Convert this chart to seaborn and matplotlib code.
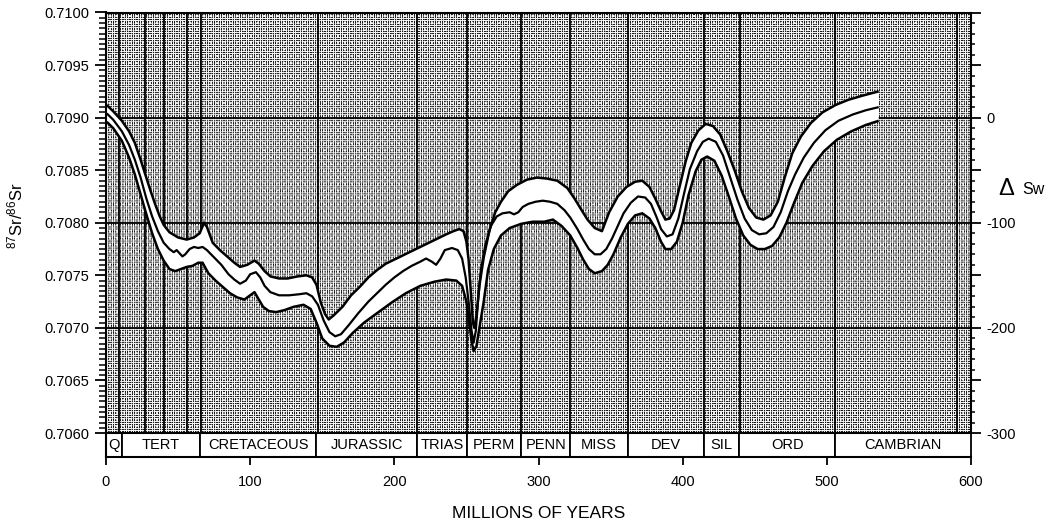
import numpy as np
import matplotlib
matplotlib.use("Agg")
import matplotlib.pyplot as plt
from matplotlib.patches import Rectangle
from matplotlib.ticker import FixedLocator, FuncFormatter
import seaborn as sns

# Seawater 87Sr/86Sr through the Phanerozoic: upper envelope, best-fit line, lower envelope
age_upper = [0.5, 5, 11, 16, 20, 24, 27, 31, 34, 37, 40, 44, 50, 56, 61, 65, 68, 70, 74, 79,
             84, 89, 93, 98, 103, 106, 110, 114, 120, 126, 133, 139, 143, 146, 149, 152, 154.5,
             158, 164, 170, 176, 182, 188, 194, 200, 206, 212, 218, 224, 230, 236, 241, 245,
             248, 250, 251.5, 253, 254.5, 255.5, 257, 259, 262, 266, 270, 274, 279, 285, 292,
             299, 306, 313, 320, 325, 329, 334, 339, 344, 349, 355, 361, 367, 372, 377, 381,
             385, 388, 391, 394, 398, 402, 406, 411, 416, 421, 426, 431, 436, 441, 446, 451,
             456, 461, 466, 471, 476, 482, 489, 497, 506, 515, 525, 536]
sr_upper = [0.70912, 0.70906, 0.70897, 0.70887, 0.70876, 0.70860, 0.70847, 0.70830, 0.70818,
            0.70807, 0.70798, 0.70791, 0.70786, 0.70784, 0.70786, 0.70790, 0.70800, 0.70796,
            0.70781, 0.70774, 0.70768, 0.70762, 0.70758, 0.70760, 0.70764, 0.70761, 0.70754,
            0.70749, 0.70747, 0.70747, 0.70749, 0.70750, 0.70748, 0.70741, 0.70724, 0.70713,
            0.70708, 0.70712, 0.70720, 0.70731, 0.70739, 0.70748, 0.70755, 0.70761, 0.70765,
            0.70769, 0.70773, 0.70777, 0.70781, 0.70785, 0.70789, 0.70792, 0.70794, 0.70792,
            0.70782, 0.70765, 0.70735, 0.70705, 0.70700, 0.70712, 0.70740, 0.70767, 0.70793,
            0.70810, 0.70820, 0.70830, 0.70836, 0.70841, 0.70843, 0.70842, 0.70840, 0.70833,
            0.70823, 0.70814, 0.70803, 0.70795, 0.70792, 0.70810, 0.70825, 0.70834, 0.70839,
            0.70840, 0.70834, 0.70823, 0.70811, 0.70803, 0.70804, 0.70812, 0.70835, 0.70858,
            0.70876, 0.70888, 0.70894, 0.70892, 0.70884, 0.70868, 0.70850, 0.70830, 0.70814,
            0.70805, 0.70803, 0.70807, 0.70820, 0.70844, 0.70866, 0.70882, 0.70895, 0.70905,
            0.70912, 0.70917, 0.70921, 0.70925]

age_mid = [0.5, 5, 11, 16, 20, 24, 28, 32, 36, 40, 44, 47, 49, 51, 53, 55, 58, 61, 64, 67, 70,
           75, 80, 85, 89, 93, 97, 100, 104, 107, 110, 114, 120, 127, 134, 139, 143, 147, 151,
           155, 159, 163, 168, 175, 182, 188, 194, 200, 206, 212, 218, 222, 226, 229, 232, 235,
           240, 244, 247, 249.5, 251.5, 253.5, 255, 256.5, 258, 260, 263, 267, 271, 275, 280,
           283, 286, 289, 293, 298, 303, 308, 313, 318, 322, 327, 331, 335, 339, 343, 347, 351,
           355, 359, 364, 369, 374, 378, 382, 385, 389, 393, 397, 401, 405, 410, 414, 418, 423,
           428, 433, 438, 443, 448, 453, 458, 463, 468, 473, 478, 484, 491, 499, 508, 518, 527,
           536]
sr_mid = [0.70904, 0.70898, 0.70887, 0.70874, 0.70860, 0.70843, 0.70823, 0.70806, 0.70792,
          0.70781, 0.70775, 0.70772, 0.70774, 0.70771, 0.70768, 0.70770, 0.70775, 0.70777,
          0.70776, 0.70777, 0.70774, 0.70767, 0.70760, 0.70751, 0.70746, 0.70742, 0.70745,
          0.70751, 0.70753, 0.70748, 0.70740, 0.70734, 0.70731, 0.70731, 0.70732, 0.70733,
          0.70730, 0.70722, 0.70707, 0.70696, 0.70692, 0.70694, 0.70702, 0.70714, 0.70725,
          0.70733, 0.70741, 0.70748, 0.70754, 0.70759, 0.70763, 0.70766, 0.70763, 0.70760,
          0.70766, 0.70774, 0.70776, 0.70774, 0.70766, 0.70748, 0.70725, 0.70698, 0.70686,
          0.70697, 0.70725, 0.70755, 0.70778, 0.70797, 0.70806, 0.70809, 0.70810, 0.70808,
          0.70810, 0.70815, 0.70818, 0.70820, 0.70821, 0.70820, 0.70818, 0.70812, 0.70805,
          0.70794, 0.70784, 0.70775, 0.70770, 0.70770, 0.70775, 0.70785, 0.70797, 0.70809,
          0.70819, 0.70825, 0.70824, 0.70818, 0.70805, 0.70794, 0.70787, 0.70789, 0.70804,
          0.70828, 0.70851, 0.70868, 0.70877, 0.70880, 0.70877, 0.70864, 0.70843, 0.70822,
          0.70804, 0.70793, 0.70789, 0.70790, 0.70796, 0.70810, 0.70830, 0.70846, 0.70862,
          0.70876, 0.70888, 0.70897, 0.70903, 0.70907, 0.70910]

age_lower = [0.5, 5, 11, 16, 20, 24, 28, 32, 36, 40, 44, 48, 52, 56, 60, 64, 67, 71, 76, 81,
             86, 91, 96, 100, 103, 106, 109, 113, 118, 124, 130, 137, 142, 146, 150, 155, 160,
             165, 171, 179, 188, 198, 208, 218, 228, 236, 243, 247, 250, 252, 253.5, 255, 257,
             259, 262, 265, 269, 274, 280, 288, 296, 304, 310, 316, 322, 327, 331, 335, 339,
             344, 348, 352, 357, 362, 367, 372, 377, 381, 385, 388, 392, 396, 400, 404, 409,
             413, 417, 422, 427, 432, 437, 442, 447, 452, 457, 462, 467, 472, 477, 483, 490,
             498, 507, 517, 527, 536]
sr_lower = [0.70896, 0.70890, 0.70878, 0.70862, 0.70846, 0.70827, 0.70808, 0.70790, 0.70775,
            0.70764, 0.70756, 0.70754, 0.70756, 0.70758, 0.70759, 0.70762, 0.70762, 0.70752,
            0.70745, 0.70739, 0.70733, 0.70729, 0.70727, 0.70731, 0.70734, 0.70727, 0.70720,
            0.70716, 0.70715, 0.70717, 0.70720, 0.70722, 0.70718, 0.70705, 0.70690, 0.70683,
            0.70682, 0.70686, 0.70695, 0.70705, 0.70714, 0.70724, 0.70733, 0.70740, 0.70744,
            0.70746, 0.70745, 0.70740, 0.70725, 0.70705, 0.70688, 0.70678, 0.70683, 0.70700,
            0.70725, 0.70755, 0.70775, 0.70788, 0.70795, 0.70799, 0.70801, 0.70801, 0.70803,
            0.70797, 0.70788, 0.70776, 0.70765, 0.70756, 0.70752, 0.70754, 0.70760, 0.70770,
            0.70786, 0.70799, 0.70807, 0.70809, 0.70804, 0.70795, 0.70782, 0.70775, 0.70775,
            0.70782, 0.70800, 0.70826, 0.70849, 0.70860, 0.70863, 0.70859, 0.70845, 0.70825,
            0.70804, 0.70788, 0.70779, 0.70775, 0.70775, 0.70778, 0.70786, 0.70800, 0.70818,
            0.70838, 0.70854, 0.70868, 0.70879, 0.70887, 0.70893, 0.70897]

# Geologic time scale strip
period_names = ["Q", "TERT", "CRETACEOUS", "JURASSIC", "TRIAS", "PERM", "PENN",
                "MISS", "DEV", "SIL", "ORD", "CAMBRIAN"]
period_edges = [0, 11, 65, 146, 215.5, 250.5, 288, 322, 362, 415, 439, 506, 600]
# Vertical rules inside the plot (epoch / period boundaries)
rule_ages = [9, 27, 40, 56, 66, 147, 216, 250.5, 288, 322, 362, 415, 440, 506, 590]
rule_ratios = [0.7070, 0.7080, 0.7090]

x_ticks = [0, 100, 200, 300, 400, 500, 600]
y_ticks = [0.7060, 0.7065, 0.7070, 0.7075, 0.7080, 0.7085, 0.7090, 0.7095, 0.7100]
dsw_ticks = [-300, -250, -200, -150, -100, -50, 0, 50, 100]
dsw_labels = ["-300", "", "-200", "", "-100", "", "0", "", ""]

sns.set_theme(style="ticks")
plt.rcParams["font.family"] = ["Liberation Sans", "DejaVu Sans"]
plt.rcParams["mathtext.fontset"] = "custom"
plt.rcParams["mathtext.rm"] = "Liberation Sans"
plt.rcParams["mathtext.it"] = "Liberation Sans"

Y_TOP, Y_BOT = 0.7100, 0.7060
STRIP = 0.000228
Y_MIN = Y_BOT - STRIP

fig = plt.figure(figsize=(10.57, 5.25), dpi=100)
fig.patch.set_facecolor("white")
ax = fig.add_axes([106 / 1057, 1 - 457 / 525, 865 / 1057, 444.5 / 525])
ax.set_xlim(0, 600)
ax.set_ylim(Y_MIN, Y_TOP)
ax.set_facecolor("white")

# Stippled halftone background
h, w = 420, 865
yy, xx = np.mgrid[0:h, 0:w].astype(float)
p = 4.7
c = np.cos(2 * np.pi * (xx + yy) / p) * np.cos(2 * np.pi * (xx - yy) / p)
dark = np.clip(c / 0.4, 0, 1)
shade = 0.96 - 0.86 * dark
ax.imshow(shade, cmap="gray", vmin=0, vmax=1, extent=(0, 600, Y_BOT, Y_TOP),
          aspect="auto", interpolation="antialiased", zorder=0)

# Grid rules
for a in rule_ages:
    ax.plot([a, a], [Y_BOT, Y_TOP], color="black", lw=1.3, zorder=1)
for r in rule_ratios:
    ax.plot([0, 600], [r, r], color="black", lw=1.3, zorder=1)

# White envelope between upper and lower curves
ax.fill(np.concatenate([age_upper, age_lower[::-1]]),
        np.concatenate([sr_upper, sr_lower[::-1]]),
        color="white", lw=0, zorder=2)

for xs, ys, lw in [(age_upper, sr_upper, 1.8), (age_mid, sr_mid, 1.6), (age_lower, sr_lower, 1.8)]:
    sns.lineplot(x=xs, y=ys, ax=ax, color="black", lw=lw, sort=False,
                 estimator=None, zorder=3)
for ln in ax.lines[-3:]:
    ln.set_solid_joinstyle("round")
    ln.set_solid_capstyle("butt")

# Period strip along the bottom
for name, x0, x1 in zip(period_names, period_edges[:-1], period_edges[1:]):
    ax.add_patch(Rectangle((x0, Y_MIN), x1 - x0, STRIP, facecolor="white",
                           edgecolor="black", lw=1.3, zorder=4, clip_on=False))
    ax.text((x0 + x1) / 2, Y_MIN + STRIP / 2, name, ha="center", va="center",
            fontsize=10.5, color="black", zorder=5)
ax.plot([0, 600], [Y_BOT, Y_BOT], color="black", lw=1.5, zorder=4)

# Axes styling
for side in ["left", "top", "bottom", "right"]:
    ax.spines[side].set_color("black")
    ax.spines[side].set_linewidth(1.5)
    ax.spines[side].set_zorder(6)
ax.spines["right"].set_visible(False)

ax.yaxis.set_major_locator(FixedLocator(y_ticks))
ax.yaxis.set_minor_locator(FixedLocator(np.arange(Y_BOT, Y_TOP + 1e-7, 0.00005)))
ax.yaxis.set_major_formatter(FuncFormatter(lambda v, _: f"{v:.4f}"))
ax.xaxis.set_major_locator(FixedLocator(x_ticks))
ax.tick_params(axis="y", which="major", direction="out", length=8, width=1.3,
               labelsize=10.5, pad=4, colors="black")
ax.tick_params(axis="y", which="minor", direction="out", length=5, width=1.1, colors="black")
ax.tick_params(axis="x", which="major", direction="out", length=6, width=1.3,
               labelsize=10.5, pad=7, colors="black")
ax.set_xlabel("MILLIONS OF YEARS", fontsize=12.5, labelpad=12, color="black")
ax.set_ylabel("")

# Right-hand scale in delta Sw units
ax2 = ax.twinx()
ax2.set_ylim((Y_MIN - 0.7090) * 1e5, (Y_TOP - 0.7090) * 1e5)
ax2.yaxis.set_major_locator(FixedLocator(dsw_ticks))
ax2.set_yticklabels(dsw_labels)
ax2.yaxis.set_minor_locator(FixedLocator(np.arange(-300, 101, 10)))
ax2.tick_params(axis="y", which="major", direction="out", length=7, width=1.3,
                labelsize=10.5, pad=4, colors="black")
ax2.tick_params(axis="y", which="minor", direction="out", length=3, width=1.1, colors="black")
for side in ["left", "top", "bottom"]:
    ax2.spines[side].set_visible(False)
ax2.spines["right"].set_bounds(-300, 100)
ax2.spines["right"].set_color("black")
ax2.spines["right"].set_linewidth(1.5)
ax2.grid(False)
ax.grid(False)

fig.text(15 / 1057, 1 - 216 / 525, "$^{87}$Sr/$^{86}$Sr", rotation=90, ha="center",
         va="center", fontsize=12, color="black")
fig.text(998 / 1057, 1 - 189 / 525, "\u0394", ha="left", va="center", fontsize=17, color="black")
fig.text(1022 / 1057, 1 - 190 / 525, "Sw", ha="left", va="center", fontsize=11.5, color="black")

fig.savefig("out.png", dpi=100, facecolor="white")
